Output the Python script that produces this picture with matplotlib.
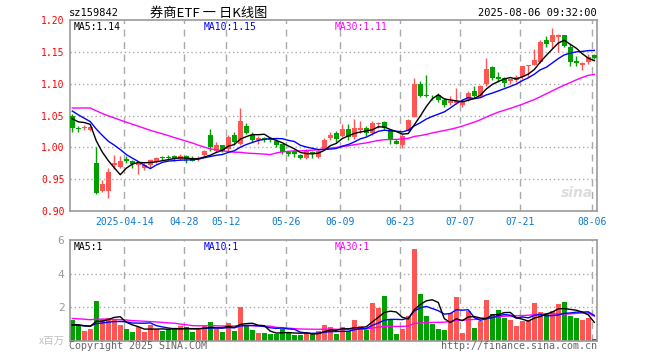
import matplotlib
matplotlib.use('Agg')
import matplotlib.pyplot as plt
import numpy as np
import pandas as pd

# ----------------------------
# Data (2025-03-31 .. 2025-08-06, one row per trading day)
# ----------------------------
open_ = [1.050, 1.031, 1.030, 1.027, 0.975, 0.932, 0.931, 0.972, 0.969, 0.982,
         0.979, 0.973, 0.967, 0.972, 0.977, 0.985, 0.985, 0.986, 0.982, 0.987,
         0.984, 0.981, 0.988, 1.020, 0.995, 1.003, 0.998, 1.020, 1.006, 1.034,
         1.020, 1.012, 1.014, 1.013, 1.010, 1.005, 0.992, 0.995, 0.988, 0.983,
         0.992, 0.985, 0.997, 1.014, 1.022, 1.018, 1.029, 1.017, 1.027, 1.030,
         1.022, 1.036, 1.040, 1.025, 1.010, 1.004, 1.026, 1.048, 1.100, 1.082,
         1.081, 1.082, 1.074, 1.070, 1.070, 1.067, 1.075, 1.089, 1.081, 1.099,
         1.126, 1.110, 1.109, 1.104, 1.106, 1.110, 1.127, 1.130, 1.134, 1.168,
         1.166, 1.173, 1.176, 1.158, 1.135, 1.129, 1.134, 1.145]
high = [1.053, 1.033, 1.035, 1.036, 1.000, 0.948, 0.968, 0.988, 0.987, 0.986,
        0.980, 0.977, 0.976, 0.982, 0.985, 0.987, 0.988, 0.988, 0.990, 0.988,
        0.986, 0.987, 0.996, 1.029, 1.008, 1.004, 1.020, 1.024, 1.061, 1.039,
        1.024, 1.018, 1.017, 1.016, 1.013, 1.006, 0.995, 0.997, 0.990, 0.998,
        0.995, 0.998, 1.014, 1.024, 1.026, 1.036, 1.036, 1.045, 1.041, 1.034,
        1.042, 1.040, 1.042, 1.028, 1.013, 1.021, 1.045, 1.109, 1.104, 1.114,
        1.082, 1.085, 1.077, 1.080, 1.093, 1.076, 1.088, 1.096, 1.098, 1.141,
        1.127, 1.119, 1.111, 1.108, 1.114, 1.128, 1.130, 1.155, 1.168, 1.175,
        1.188, 1.178, 1.177, 1.163, 1.144, 1.134, 1.147, 1.147]
low = [1.024, 1.024, 1.027, 1.025, 0.926, 0.930, 0.921, 0.966, 0.967, 0.975,
       0.967, 0.958, 0.965, 0.968, 0.975, 0.980, 0.980, 0.978, 0.980, 0.975,
       0.978, 0.978, 0.987, 0.995, 0.993, 0.993, 0.995, 1.004, 1.004, 1.021,
       1.008, 1.005, 1.008, 1.009, 1.001, 0.989, 0.987, 0.985, 0.982, 0.982,
       0.984, 0.983, 0.996, 1.012, 1.009, 1.016, 1.011, 1.013, 1.023, 1.018,
       1.020, 1.031, 1.027, 1.006, 1.005, 0.999, 1.025, 1.047, 1.079, 1.079,
       1.075, 1.071, 1.063, 1.067, 1.068, 1.064, 1.073, 1.078, 1.079, 1.097,
       1.106, 1.102, 1.094, 1.100, 1.103, 1.108, 1.111, 1.129, 1.133, 1.158,
       1.156, 1.149, 1.157, 1.128, 1.127, 1.122, 1.131, 1.139]
close = [1.030, 1.029, 1.032, 1.032, 0.928, 0.942, 0.962, 0.975, 0.978, 0.979,
         0.974, 0.975, 0.973, 0.980, 0.984, 0.983, 0.983, 0.982, 0.986, 0.981,
         0.979, 0.983, 0.995, 1.000, 1.003, 0.995, 1.016, 1.008, 1.042, 1.023,
         1.011, 1.015, 1.012, 1.012, 1.004, 0.993, 0.990, 0.990, 0.983, 0.995,
         0.991, 0.995, 1.012, 1.020, 1.013, 1.029, 1.016, 1.031, 1.031, 1.022,
         1.038, 1.039, 1.030, 1.011, 1.006, 1.018, 1.043, 1.099, 1.080, 1.080,
         1.080, 1.074, 1.066, 1.072, 1.073, 1.073, 1.085, 1.081, 1.096, 1.123,
         1.109, 1.108, 1.101, 1.107, 1.111, 1.127, 1.129, 1.137, 1.166, 1.163,
         1.176, 1.177, 1.159, 1.134, 1.132, 1.133, 1.142, 1.140]
# volume, millions of shares
volume = [1.24, 0.90, 0.58, 0.74, 2.38, 1.30, 1.36, 1.24, 0.94, 0.74,
          0.52, 0.82, 0.52, 0.94, 0.74, 0.58, 0.70, 0.74, 0.88, 0.82,
          0.52, 0.68, 0.90, 1.12, 0.74, 0.52, 1.06, 0.58, 2.02, 0.98,
          0.64, 0.46, 0.46, 0.40, 0.40, 0.72, 0.52, 0.34, 0.34, 0.50,
          0.40, 0.60, 0.94, 0.84, 0.40, 0.84, 0.60, 1.24, 0.90, 0.64,
          2.28, 1.98, 2.68, 1.28, 0.40, 0.70, 1.50, 5.44, 2.80, 1.50,
          1.00, 0.70, 0.64, 1.64, 2.62, 0.46, 1.78, 0.76, 1.20, 2.44,
          1.60, 1.84, 1.36, 1.24, 0.88, 1.18, 1.24, 2.26, 1.72, 1.60,
          1.78, 2.20, 2.32, 1.48, 1.36, 1.24, 1.36, 0.10]

# sessions before the window (only feed the moving averages)
prior_close = [1.030, 1.028, 1.035, 1.060, 1.068, 1.075, 1.072, 1.080, 1.078, 1.070,
               1.065, 1.072, 1.076, 1.068, 1.062, 1.070, 1.074, 1.068, 1.072, 1.060,
               1.088, 1.085, 1.086, 1.045, 1.041, 1.054, 1.037, 1.047, 1.057]
prior_volume = [1.50, 1.30, 1.60, 1.40, 1.20, 1.50, 1.70, 1.30, 1.40, 1.60,
                1.30, 1.20, 1.50, 1.40, 1.30, 1.60, 1.34, 2.40, 2.10, 2.10,
                0.95, 0.90, 0.92, 0.88, 0.95, 0.85, 0.92, 0.88, 0.91]

tick_idx = [9, 19, 26, 36, 45, 55, 65, 75, 87]
tick_labels = ['2025-04-14', '04-28', '05-12', '05-26', '06-09',
               '06-23', '07-07', '07-21', '08-06']

price_ticks = [0.90, 0.95, 1.00, 1.05, 1.10, 1.15, 1.20]
vol_ticks = [2, 4, 6]

# ----------------------------
# Helpers
# ----------------------------
def moving_avg(prior, vals, n):
    s = pd.Series(list(prior) + list(vals)).rolling(n).mean().values
    return s[len(prior):]

RED = '#ff5555'
GREEN = '#00a000'
GRID = '#aaaaaa'
MONO = ['DejaVu Sans Mono']

plt.rcParams['font.family'] = MONO

W, H = 660, 360
fig = plt.figure(figsize=(W / 100, H / 100), dpi=100)

def px_rect(x0, y0, x1, y1):
    return [x0 / W, 1 - y1 / H, (x1 - x0) / W, (y1 - y0) / H]

ax = fig.add_axes(px_rect(70, 20, 597, 211))
axv = fig.add_axes(px_rect(70, 240, 597, 341))

x = np.arange(len(close))
o = np.array(open_)
c = np.array(close)
up = c >= o
colors = np.where(up, RED, GREEN)

xlim = (-0.38, 87.45)

# =========================================================
# Price panel
# =========================================================
for yv in price_ticks[1:-1]:
    ax.axhline(yv, color=GRID, lw=1, ls=(0, (1, 2)), zorder=0)
for ti in tick_idx:
    ax.axvline(ti - 0.3, color=GRID, lw=1, ls=(0, (5, 4)), zorder=0)

ax.vlines(x, low, high, colors=colors, lw=1, zorder=2)
body_h = np.maximum(np.abs(c - o), 0.0012)
ax.bar(x, body_h, bottom=np.minimum(o, c), width=0.8, color=colors,
       linewidth=0, zorder=3)

ma5 = moving_avg(prior_close, close, 5)
ma10 = moving_avg(prior_close, close, 10)
ma30 = moving_avg(prior_close, close, 30)
ax.plot(x, ma30, color='#ff00ff', lw=1, zorder=4)
ax.plot(x, ma10, color='#0000ff', lw=1, zorder=4)
ax.plot(x, ma5, color='black', lw=1, zorder=4)

ax.set_xlim(*xlim)
ax.set_ylim(0.90, 1.20)
ax.set_yticks(price_ticks)
ax.set_yticklabels(['%.2f' % v for v in price_ticks])
ax.set_xticks([ti - 0.3 for ti in tick_idx])
ax.set_xticklabels(tick_labels)
ax.tick_params(axis='y', length=0, pad=4, labelcolor='#ff0000', labelsize=7)
ax.tick_params(axis='x', length=0, pad=4, labelcolor='#0a78d2', labelsize=7)

ax.text(4 / 527, 0.965, 'MA5:%.2f' % ma5[-1], transform=ax.transAxes,
        color='black', fontsize=7, va='center')
ax.text(134 / 527, 0.965, 'MA10:%.2f' % ma10[-1], transform=ax.transAxes,
        color='#0000ff', fontsize=7, va='center')
ax.text(265 / 527, 0.965, 'MA30:%.2f' % ma30[-1], transform=ax.transAxes,
        color='#ff00ff', fontsize=7, va='center')

ax.text(0.993, 0.06, 'sina', transform=ax.transAxes, ha='right', va='bottom',
        color='#dcdcdc', fontsize=10, fontstyle='italic', fontweight='bold',
        family='DejaVu Sans')

# =========================================================
# Volume panel
# =========================================================
for yv in vol_ticks[:-1]:
    axv.axhline(yv, color=GRID, lw=1, ls=(0, (1, 2)), zorder=0)
for ti in tick_idx:
    axv.axvline(ti - 0.3, color=GRID, lw=1, ls=(0, (5, 4)), zorder=0)

axv.bar(x, volume, width=0.8, color=colors, linewidth=0, zorder=2)

vma5 = moving_avg(prior_volume, volume, 5)
vma10 = moving_avg(prior_volume, volume, 10)
vma30 = moving_avg(prior_volume, volume, 30)
axv.plot(x, vma30, color='#ff00ff', lw=1, zorder=3)
axv.plot(x, vma10, color='#0000ff', lw=1, zorder=3)
axv.plot(x, vma5, color='black', lw=1, zorder=3)

axv.set_xlim(*xlim)
axv.set_ylim(0, 6)
axv.set_yticks(vol_ticks)
axv.set_yticklabels([str(v) for v in vol_ticks])
axv.set_xticks([])
axv.tick_params(axis='y', length=0, pad=4, labelcolor='#999999', labelsize=8)

# the site shows the volume averages truncated to whole millions
axv.text(4 / 527, 0.93, 'MA5:%d' % int(vma5[-1]), transform=axv.transAxes,
         color='black', fontsize=7, va='center')
axv.text(134 / 527, 0.93, 'MA10:%d' % int(vma10[-1]), transform=axv.transAxes,
         color='#0000ff', fontsize=7, va='center')
axv.text(265 / 527, 0.93, 'MA30:%d' % int(vma30[-1]), transform=axv.transAxes,
         color='#ff00ff', fontsize=7, va='center')

for a in (ax, axv):
    for sp in a.spines.values():
        sp.set_color('#999999')
        sp.set_linewidth(1.2)

# =========================================================
# Header / footer texts
# =========================================================
fig.text(69 / W, 1 - 13 / H, 'sz159842', fontsize=7.5, va='center', color='black')
fig.text(209 / W, 1 - 13 / H, '券商ETF 一 日K线图', fontsize=9.5, va='center',
         ha='center', color='black', family=['Noto Sans CJK SC', 'DejaVu Sans'])
fig.text(597 / W, 1 - 13 / H, '2025-08-06 09:32:00', fontsize=7.5, va='center',
         ha='right', color='black')
fig.text(65 / W, 1 - 341 / H, 'x百万', fontsize=7.5, va='center', ha='right',
         color='#c0c0c0', family=['Noto Sans CJK SC', 'DejaVu Sans'])
fig.text(69 / W, 1 - 346 / H, 'Copyright 2025 SINA.COM', fontsize=7.2,
         va='center', color='#666666')
fig.text(597 / W, 1 - 346 / H, 'http://finance.sina.com.cn', fontsize=7.2,
         va='center', ha='right', color='#666666')

fig.savefig('out.png', dpi=100)
